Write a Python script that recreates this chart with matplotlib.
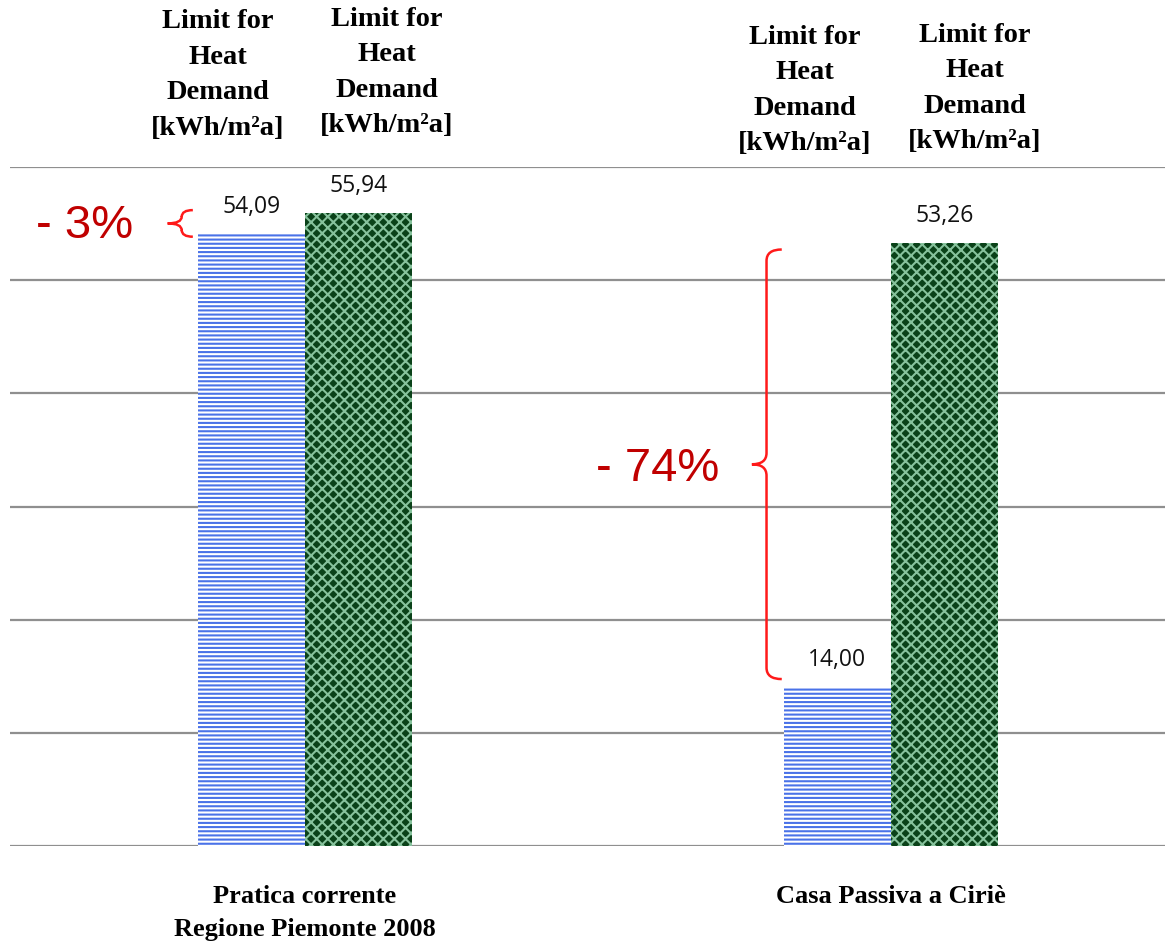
import numpy as np
import matplotlib
matplotlib.use("Agg")
import matplotlib.pyplot as plt
from matplotlib.path import Path
from matplotlib.patches import PathPatch

# data
categories = ["Pratica corrente\nRegione Piemonte 2008", "Casa Passiva a Ciriè"]
limit_blue = [54.09, 14.00]
limit_green = [55.94, 53.26]
header = "Limit for\nHeat\nDemand\n[kWh/m²a]"
pct_labels = ["- 3%", "- 74%"]

W, H, DPI = 1167, 941, 100
RED = "#c00000"
BRACE_RED = "#ff1a1a"
SERIF = "Liberation Serif"


def px(x, y):
    return x / W, 1 - y / H


def brace(ax, x, xtip, xend, y0, y1, r):
    # left-pointing curly brace from y0 to y1 at x, tip at xtip
    ym = (y0 + y1) / 2
    verts = [(xend, y1), (x, y1), (x, y1 - r),
             (x, ym + r), (x, ym), (xtip, ym),
             (x, ym), (x, ym - r),
             (x, y0 + r), (x, y0), (xend, y0)]
    codes = [Path.MOVETO, Path.CURVE3, Path.CURVE3,
             Path.LINETO, Path.CURVE3, Path.CURVE3,
             Path.CURVE3, Path.CURVE3,
             Path.LINETO, Path.CURVE3, Path.CURVE3]
    ax.add_patch(PathPatch(Path(verts, codes), fill=False, ec=BRACE_RED,
                           lw=1.8, clip_on=False, zorder=5))


fig = plt.figure(figsize=(W / DPI, H / DPI), dpi=DPI)
ax = fig.add_axes([10 / W, 95 / H, 1155 / W, 679 / H])

x = np.arange(len(categories))
bw = 0.183
plt.rcParams["hatch.linewidth"] = 1.5
b1 = ax.bar(x - bw / 2, limit_blue, bw, facecolor="white", edgecolor="#4a72e8",
            hatch="----", lw=0, zorder=3)
b2 = ax.bar(x + bw / 2, limit_green, bw, facecolor="#0a4219", edgecolor="#86c29c",
            hatch="xxx", lw=0, zorder=3)

for bars, vals in ((b1, limit_blue), (b2, limit_green)):
    for rect, v in zip(bars, vals):
        ax.annotate(f"{v:.2f}".replace(".", ","),
                    (rect.get_x() + rect.get_width() / 2, v),
                    xytext=(0, 19.5), textcoords="offset points",
                    ha="center", va="center", fontsize=16.5, family="Open Sans",
                    color="#111111")

ax.set_xlim(-0.503, 1.468)
ax.set_ylim(0, 60)
ax.set_yticks(np.arange(0, 61, 10))
ax.set_yticklabels([])
ax.grid(axis="y", color="#8f8f8f", lw=1.6, zorder=0)
ax.set_axisbelow(True)
ax.tick_params(length=0, pad=28)
ax.set_xticks(x)
ax.set_xticklabels(categories, family=SERIF, fontweight="bold", fontsize=19,
                   linespacing=1.55)
for s in ax.spines.values():
    s.set_visible(False)

# headers above each bar
for hx, hy in ((218, 75), (387, 72.5), (805, 90.5), (975, 88.5)):
    fig.text(*px(hx, hy), header, ha="center", va="center", family=SERIF,
             fontweight="bold", fontsize=20.5, linespacing=1.55)

# percentage annotations and braces
brace(ax, -0.21, -0.234, -0.191, limit_blue[0] - 0.25, limit_green[0] + 0.25, 0.6)
ax.text(-0.376, (limit_blue[0] + limit_green[0]) / 2 - 0.2, pct_labels[0],
        ha="center", va="center", fontsize=34, color=RED, family="Liberation Sans")
brace(ax, 0.788, 0.763, 0.814, limit_blue[1] + 0.75, limit_green[1] - 0.55, 1.0)
ax.text(0.603, (limit_blue[1] + limit_green[1]) / 2 - 0.3, pct_labels[1],
        ha="center", va="center", fontsize=34, color=RED, family="Liberation Sans")

fig.savefig("out.png", dpi=DPI)
